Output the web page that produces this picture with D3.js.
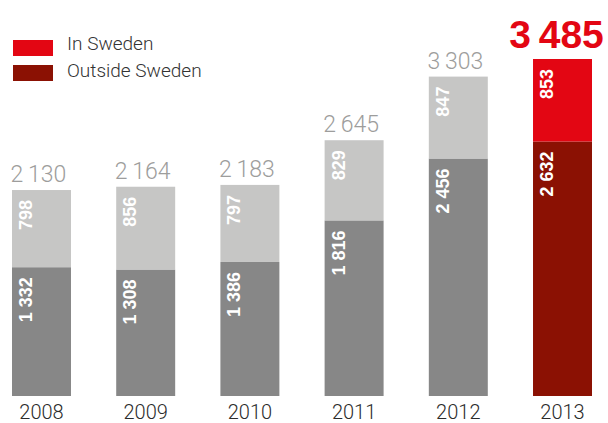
<!DOCTYPE html>
<html>
<head>
<meta charset="utf-8">
<script src="https://cdn.jsdelivr.net/npm/d3@7"></script>
<style>
  html, body { margin: 0; padding: 0; background: #fff; }
  svg { display: block; }
</style>
</head>
<body>
<svg id="chart" width="608" height="423"></svg>
<script>
const years = ["2008", "2009", "2010", "2011", "2012", "2013"];
const outsideSweden = [1332, 1308, 1386, 1816, 2456, 2632];
const inSweden = [798, 856, 797, 829, 847, 853];
const totals = [2130, 2164, 2183, 2645, 3303, 3485];
const legendLabels = ["In Sweden", "Outside Sweden"];
const highlightYear = "2013";

const colors = {
  inGray: "#c6c6c5",
  outGray: "#878787",
  inRed: "#e30613",
  outRed: "#8b1103",
  totalGray: "#9d9d9c",
  axisText: "#2b2b2b"
};

const svg = d3.select("#chart");

const x = d3.scaleBand().domain(years).range([12, 592]).paddingInner(0.434).paddingOuter(0);
const y = d3.scaleLinear().domain([0, d3.max(totals)]).range([396, 59]);

const rows = years.map((yr, i) => ({
  year: yr, outside: outsideSweden[i], inside: inSweden[i], total: totals[i],
  hi: yr === highlightYear
}));

const fmtSpace = v => d3.format(",")(v).replace(/,/g, " ");
const fmtThin = v => d3.format(",")(v).replace(/,/g, "\u2009");

const g = svg.append("g");

// outside Sweden (bottom segment)
g.selectAll("rect.out").data(rows).join("rect")
  .attr("class", "out")
  .attr("x", d => x(d.year))
  .attr("width", x.bandwidth())
  .attr("y", d => y(d.outside))
  .attr("height", d => y(0) - y(d.outside))
  .attr("fill", d => d.hi ? colors.outRed : colors.outGray);

// in Sweden (top segment)
g.selectAll("rect.in").data(rows).join("rect")
  .attr("class", "in")
  .attr("x", d => x(d.year))
  .attr("width", x.bandwidth())
  .attr("y", d => y(d.outside + d.inside))
  .attr("height", d => y(d.outside) - y(d.outside + d.inside))
  .attr("fill", d => d.hi ? colors.inRed : colors.inGray);

// rotated value labels
function segLabel(cls, topVal, val) {
  g.selectAll("text." + cls).data(rows).join("text")
    .attr("class", cls)
    .attr("transform", d => `translate(${x(d.year) + 20},${y(topVal(d)) + 10}) rotate(-90)`)
    .attr("text-anchor", "end")
    .attr("font-family", "'Liberation Sans', Arial, sans-serif")
    .attr("font-weight", "bold")
    .attr("font-size", 18)
    .attr("fill", "#fff")
    .text(d => fmtSpace(val(d)));
}
segLabel("lin", d => d.outside + d.inside, d => d.inside);
segLabel("lout", d => d.outside, d => d.outside);

// totals
g.selectAll("text.tot").data(rows).join("text")
  .attr("class", "tot")
  .attr("x", d => x(d.year) + x.bandwidth() / 2 + (d.hi ? -6 : -3))
  .attr("y", d => y(d.total) - (d.hi ? 11 : 8))
  .attr("text-anchor", "middle")
  .attr("font-family", d => d.hi ? "'Liberation Sans', Arial, sans-serif" : "Roboto, 'Liberation Sans', sans-serif")
  .attr("font-weight", d => d.hi ? "bold" : 300)
  .attr("font-size", d => d.hi ? 39 : 23)
  .attr("fill", d => d.hi ? colors.inRed : colors.totalGray)
  .text(d => fmtThin(d.total));

// year axis labels
const xAxis = d3.axisBottom(x).tickSize(0).tickPadding(0);
const ax = svg.append("g").attr("transform", "translate(0,402)").call(xAxis);
ax.select(".domain").remove();
ax.selectAll("text")
  .attr("dy", 0)
  .attr("y", 17)
  .attr("font-family", "Roboto, 'Liberation Sans', sans-serif")
  .attr("font-weight", 300)
  .attr("font-size", 20)
  .attr("fill", colors.axisText);

// legend
const legend = svg.append("g");
const legendColors = [colors.inRed, colors.outRed];
legendLabels.forEach((lab, i) => {
  const ly = 40 + i * 25;
  legend.append("rect").attr("x", 13).attr("y", ly).attr("width", 40).attr("height", 16)
    .attr("fill", legendColors[i]);
  legend.append("text").attr("x", 67).attr("y", 50 + i * 27)
    .attr("font-family", "Roboto, 'Liberation Sans', sans-serif")
    .attr("font-weight", 300)
    .attr("font-size", 19)
    .attr("fill", "#333")
    .text(lab);
});
</script>
</body>
</html>
